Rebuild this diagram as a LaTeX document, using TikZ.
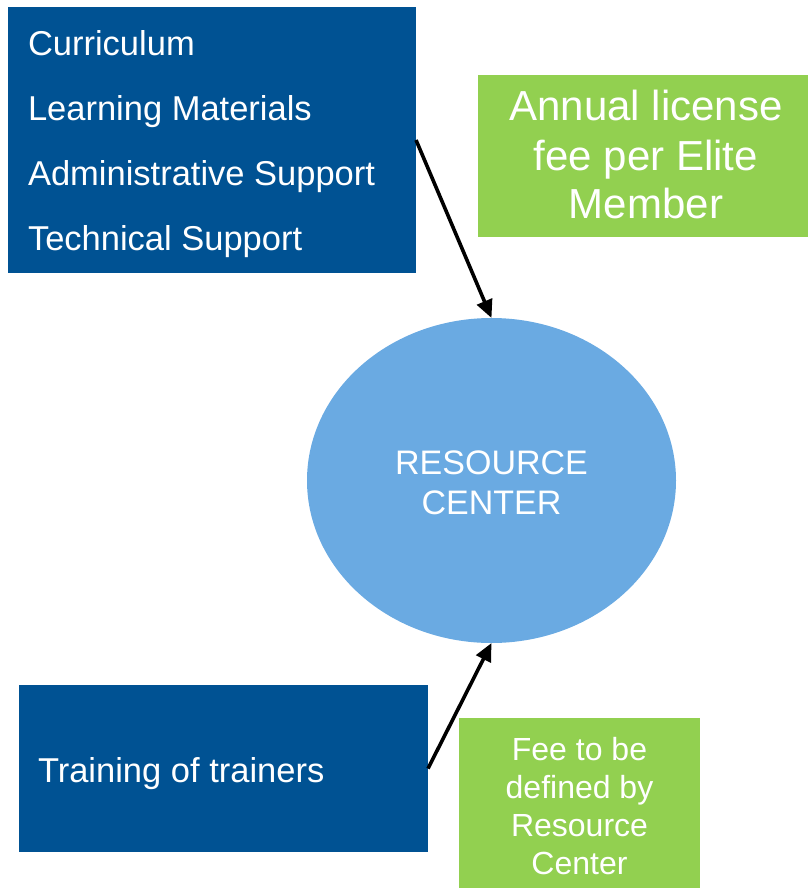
\documentclass[tikz,border=0pt]{standalone}
\usepackage{fontspec}
\setmainfont{Liberation Sans}
\usetikzlibrary{arrows.meta,shapes.geometric}
\definecolor{dblue}{RGB}{0,82,147}
\definecolor{lgreen}{RGB}{146,208,80}
\definecolor{lblue}{RGB}{106,170,226}
\tikzset{
  bluebox/.style={fill=dblue,draw=none,inner sep=0pt,outer sep=0pt},
  greenbox/.style={fill=lgreen,draw=none,inner sep=0pt,outer sep=0pt},
  wtxt/.style={text=white,inner sep=0pt,outer sep=0pt},
  conn/.style={line width=3.6pt,-{Triangle[length=18pt,width=16pt]}}
}
\begin{document}
\begin{tikzpicture}[x=1pt,y=-1pt]
\useasboundingbox (0,0) rectangle (808,889);
% boxes
\node[bluebox,minimum width=408pt,minimum height=266pt] (top) at (212,140) {};
\node[greenbox,minimum width=330pt,minimum height=162pt] (lic) at (643,156) {};
\node[bluebox,minimum width=409pt,minimum height=167pt] (train) at (223.5,768.5) {};
\node[greenbox,minimum width=241pt,minimum height=170pt] (fee) at (579.5,803) {};
\node[ellipse,fill=lblue,draw=none,minimum width=369pt,minimum height=325pt,inner sep=0pt,outer sep=0pt] (rc) at (491.5,480.5) {};
% texts top box
\node[wtxt,anchor=base west,font=\fontsize{34.5}{40}\selectfont] (t1) at (28,55) {Curriculum};
\node[wtxt,anchor=base west,font=\fontsize{34.5}{40}\selectfont] (t2) at (28,120) {Learning Materials};
\node[wtxt,anchor=base west,font=\fontsize{34.5}{40}\selectfont] (t3) at (28,185) {Administrative Support};
\node[wtxt,anchor=base west,font=\fontsize{34.5}{40}\selectfont] (t4) at (28,250) {Technical Support};
% license
\node[wtxt,anchor=base,font=\fontsize{42}{48}\selectfont] (l1) at (646,120) {Annual license};
\node[wtxt,anchor=base,font=\fontsize{42}{48}\selectfont] (l2) at (646,170) {fee per Elite};
\node[wtxt,anchor=base,font=\fontsize{42}{48}\selectfont] (l3) at (646,218) {Member};
% resource center
\node[wtxt,anchor=base,font=\fontsize{34}{40}\selectfont] (r1) at (491.5,474) {RESOURCE};
\node[wtxt,anchor=base,font=\fontsize{34}{40}\selectfont] (r2) at (491.5,514) {CENTER};
% training
\node[wtxt,anchor=base west,font=\fontsize{34.5}{40}\selectfont] (tr) at (38,782) {Training of trainers};
% fee
\node[wtxt,anchor=base,font=\fontsize{32}{38}\selectfont] (f1) at (579.5,760) {Fee to be};
\node[wtxt,anchor=base,font=\fontsize{32}{38}\selectfont] (f2) at (579.5,798) {defined by};
\node[wtxt,anchor=base,font=\fontsize{32}{38}\selectfont] (f3) at (579.5,836) {Resource};
\node[wtxt,anchor=base,font=\fontsize{32}{38}\selectfont] (f4) at (579.5,874) {Center};
% connectors
\draw[conn] (top.east) -- (rc.north);
\draw[conn] (train.east) -- (rc.south);
\end{tikzpicture}
\end{document}
